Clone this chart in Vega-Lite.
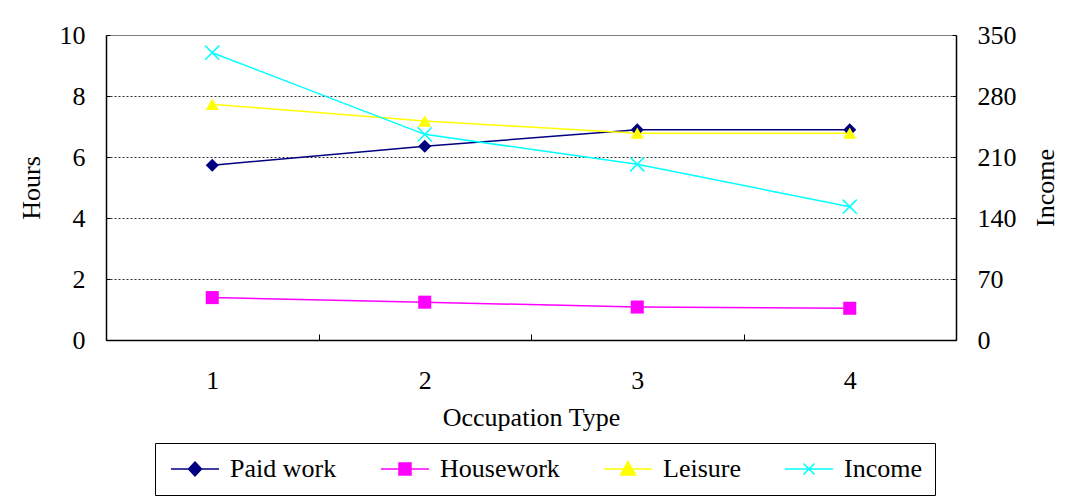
{
  "$schema": "https://vega.github.io/schema/vega-lite/v6.json",
  "width": 850,
  "height": 305,
  "autosize": {"type": "none"},
  "padding": {"left": 106, "top": 35, "right": 121, "bottom": 163},
  "background": "white",
  "config": {
    "font": "Liberation Serif",
    "view": {"stroke": "#808080", "strokeWidth": 1},
    "axis": {
      "labelFont": "Liberation Serif",
      "titleFont": "Liberation Serif",
      "labelFontSize": 26,
      "titleFontSize": 26,
      "titleFontWeight": "normal",
      "labelColor": "black",
      "titleColor": "black",
      "domainColor": "black",
      "domainWidth": 1.5,
      "tickColor": "black",
      "tickWidth": 1
    },
    "legend": {
      "labelFont": "Liberation Serif",
      "labelFontSize": 26,
      "labelColor": "black"
    },
    "text": {"font": "Liberation Serif"}
  },
  "data": {
    "values": [
      {"occ": "1", "series": "Paid work", "value": 5.73},
      {"occ": "2", "series": "Paid work", "value": 6.35},
      {"occ": "3", "series": "Paid work", "value": 6.89},
      {"occ": "4", "series": "Paid work", "value": 6.89},
      {"occ": "1", "series": "Housework", "value": 1.39},
      {"occ": "2", "series": "Housework", "value": 1.24},
      {"occ": "3", "series": "Housework", "value": 1.08},
      {"occ": "4", "series": "Housework", "value": 1.04},
      {"occ": "1", "series": "Leisure", "value": 7.73},
      {"occ": "2", "series": "Leisure", "value": 7.18},
      {"occ": "3", "series": "Leisure", "value": 6.78},
      {"occ": "4", "series": "Leisure", "value": 6.78},
      {"occ": "1", "series": "Income", "value": 329.7},
      {"occ": "2", "series": "Income", "value": 236},
      {"occ": "3", "series": "Income", "value": 201.6},
      {"occ": "4", "series": "Income", "value": 153}
    ]
  },
  "encoding": {
    "x": {
      "field": "occ",
      "type": "ordinal",
      "scale": {"type": "band", "paddingInner": 0, "paddingOuter": 0},
      "axis": {
        "title": "Occupation Type",
        "labelAngle": 0,
        "labelFont": "Liberation Serif",
        "titleFont": "Liberation Serif",
        "tickBand": "extent",
        "tickSize": -6,
        "labelPadding": 33,
        "titlePadding": 11
      }
    },
    "color": {
      "field": "series",
      "type": "nominal",
      "scale": {
        "domain": ["Paid work", "Housework", "Leisure", "Income"],
        "range": ["#000080", "#FF00FF", "#FFFF00", "#00FFFF"]
      },
      "legend": {
        "title": null,
        "orient": "none",
        "direction": "horizontal",
        "legendX": 49,
        "legendY": 408,
        "strokeColor": "black",
        "padding": 13,
        "columnPadding": 41,
        "symbolSize": 400,
        "symbolStrokeWidth": 1.5,
        "labelOffset": 36,
        "labelFont": "Liberation Serif",
        "encode": {
          "symbols": {
            "update": {
              "shape": {"signal": "datum.value === 'Paid work' ? 'M-1,0H3.8M1.4,-0.7L2.05,0L1.4,0.7L0.75,0Z' : datum.value === 'Housework' ? 'M-1,0H3.8M0.8,-0.6H2V0.6H0.8Z' : datum.value === 'Leisure' ? 'M-1,0H3.8M1.4,-0.75L2.15,0.6H0.65Z' : 'M-1,0H3.8M0.85,-0.55L1.95,0.55M0.85,0.55L1.95,-0.55'"},
              "fill": {"signal": "datum.value === 'Income' ? 'transparent' : scale('color', datum.value)"},
              "stroke": {"signal": "scale('color', datum.value)"},
              "strokeWidth": {"value": 1.5}
            }
          }
        }
      }
    }
  },
  "layer": [
    {
      "transform": [{"filter": "datum.series !== 'Income'"}],
      "encoding": {
        "y": {
          "field": "value",
          "type": "quantitative",
          "scale": {"domain": [0, 10], "nice": false},
          "axis": {
            "title": "Hours",
            "orient": "left",
            "labelFont": "Liberation Serif",
            "titleFont": "Liberation Serif",
            "values": [0, 2, 4, 6, 8, 10],
            "grid": true,
            "gridDash": [2, 2],
            "gridColor": "#303030",
            "gridWidth": 1,
            "gridOpacity": {"condition": {"test": "datum.value === 10 || datum.value === 0", "value": 0}, "value": 1},
            "tickSize": -4,
            "labelPadding": 25,
            "titlePadding": 15
          }
        }
      },
      "layer": [
        {"mark": {"type": "line", "strokeWidth": 1.5}},
        {
          "mark": {"type": "point", "filled": true, "opacity": 1},
          "encoding": {
            "shape": {
              "field": "series",
              "type": "nominal",
              "scale": {
                "domain": ["Paid work", "Housework", "Leisure"],
                "range": ["diamond", "square", "triangle-up"]
              },
              "legend": null
            },
            "size": {"value": 170}
          }
        }
      ]
    },
    {
      "transform": [{"filter": "datum.series === 'Income'"}],
      "encoding": {
        "y": {
          "field": "value",
          "type": "quantitative",
          "scale": {"domain": [0, 350], "nice": false},
          "axis": {
            "title": "Income",
            "orient": "right",
            "labelFont": "Liberation Serif",
            "titleFont": "Liberation Serif",
            "values": [0, 70, 140, 210, 280, 350],
            "grid": false,
            "tickSize": -4,
            "labelPadding": 25,
            "titleAngle": 270,
            "titlePadding": 42
          }
        }
      },
      "layer": [
        {"mark": {"type": "line", "strokeWidth": 1.5}},
        {
          "mark": {"type": "point", "filled": false, "opacity": 1, "strokeWidth": 1.5, "shape": "M-1,-1L1,1M-1,1L1,-1"},
          "encoding": {"size": {"value": 200}}
        }
      ]
    }
  ],
  "resolve": {"scale": {"y": "independent"}}
}
